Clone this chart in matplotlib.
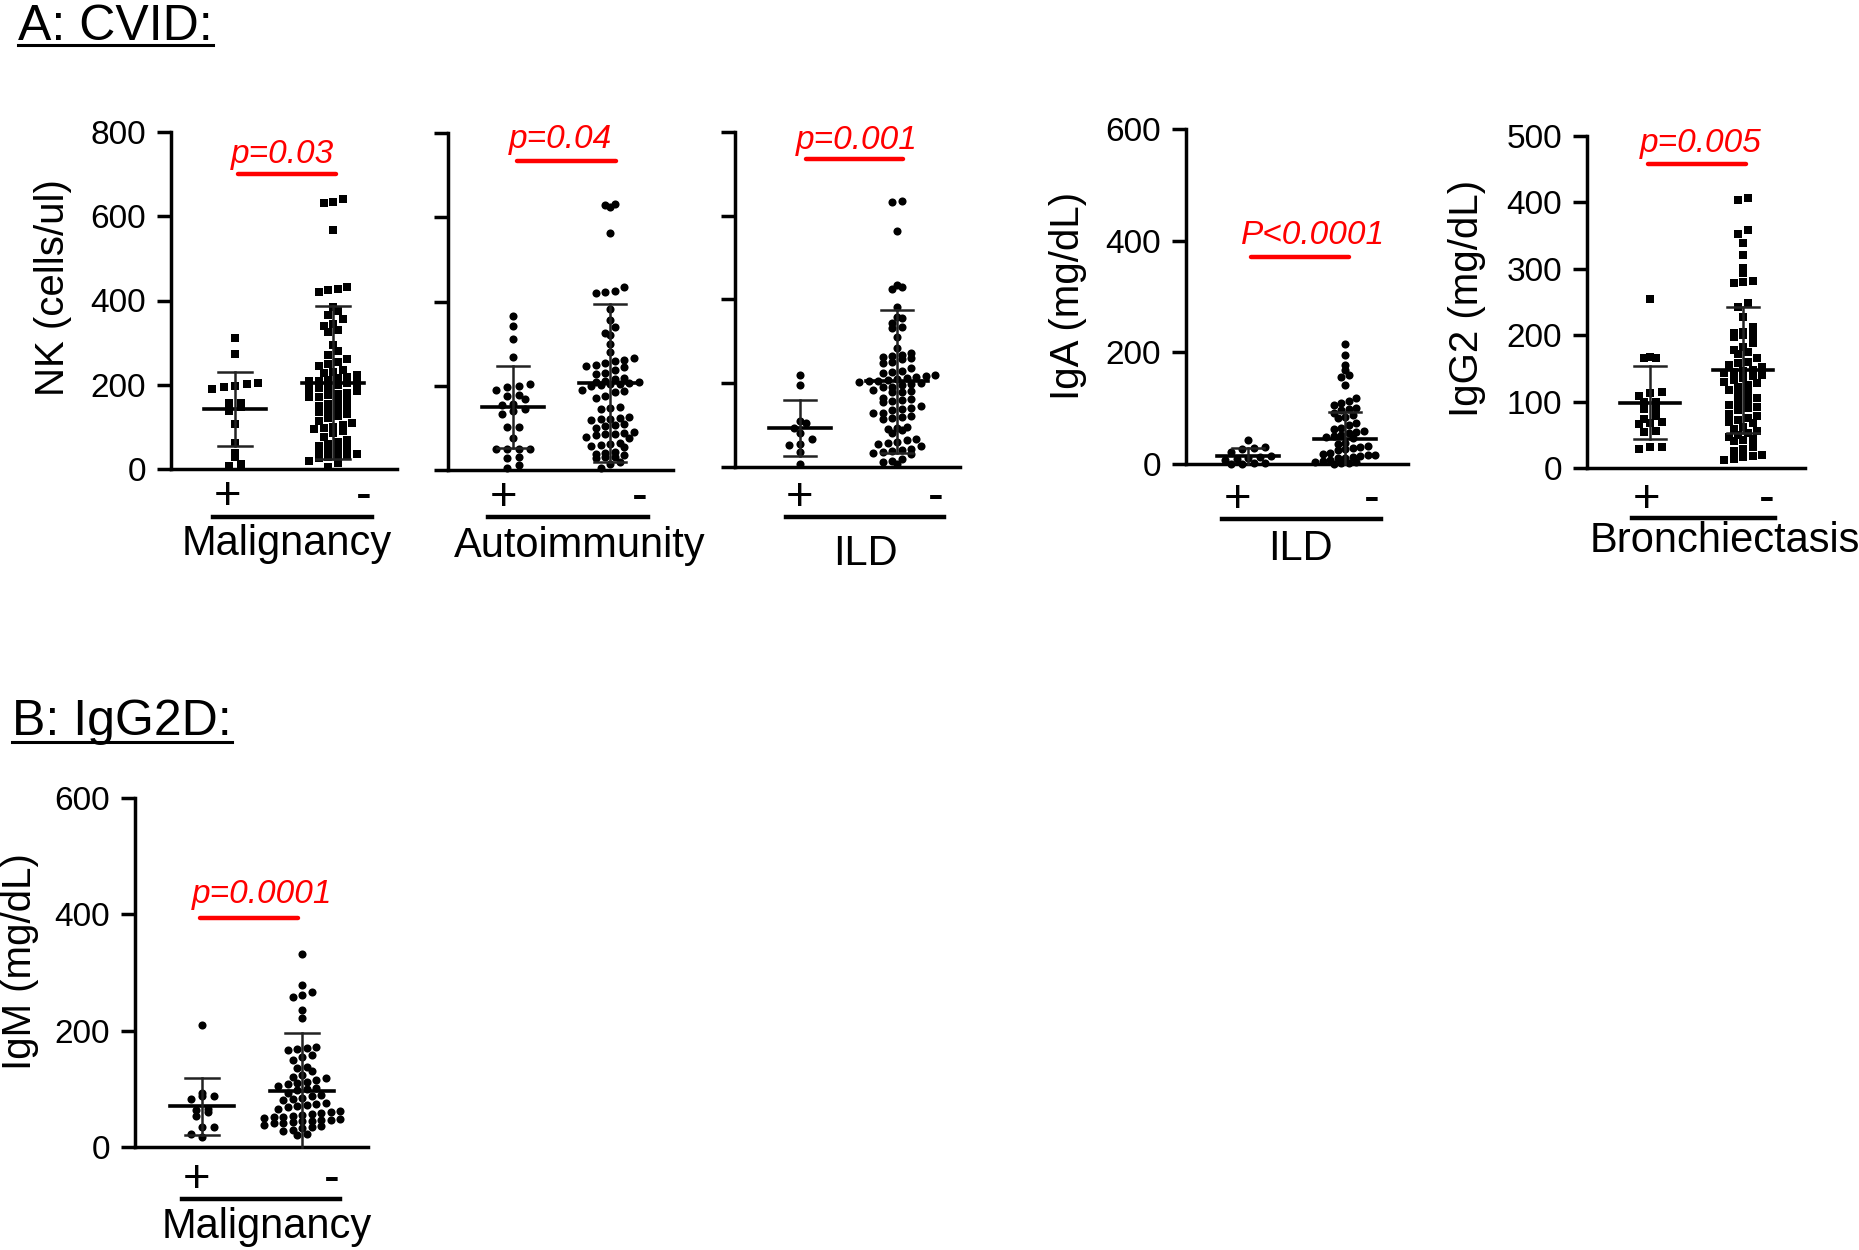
import numpy as np
import matplotlib
matplotlib.use('Agg')
import matplotlib.pyplot as plt
from matplotlib.lines import Line2D

plt.rcParams['font.family'] = ['Liberation Sans', 'DejaVu Sans']

# ---- values ----
nk_malig_pos = [312, 273, 205, 202, 197, 194, 189, 157, 157, 148, 138, 107, 61, 37, 28, 13, 7]
nk_malig_neg = [640, 635, 632, 567, 432, 428, 425, 420, 385, 375, 365, 355, 345, 340, 330, 325,
                295, 280, 270, 260, 255, 250, 245, 235, 230, 228, 222, 218, 215, 212, 210, 208,
                205, 203, 200, 195, 192, 190, 185, 180, 178, 175, 172, 170, 165, 160, 155, 150,
                148, 145, 140, 135, 130, 125, 120, 115, 110, 105, 100, 98, 95, 90, 85, 75, 70,
                65, 60, 55, 50, 45, 40, 38, 35, 32, 30, 28, 25, 20, 15, 5]
nk_malig_mean = [143, 205]
nk_malig_sd = [88, 182]

nk_auto_pos = [366, 341, 311, 269, 204, 200, 198, 190, 178, 176, 168, 157, 154, 144, 139, 133,
               103, 103, 75, 49, 49, 49, 49, 30, 28, 12, 4]
nk_auto_neg = [632, 628, 625, 563, 434, 425, 422, 420, 382, 356, 340, 325, 320, 300, 280, 265,
               262, 258, 255, 250, 248, 245, 237, 230, 228, 218, 215, 212, 210, 208, 206, 205,
               204, 202, 200, 190, 188, 185, 175, 172, 150, 148, 145, 126, 124, 122, 120, 118,
               110, 108, 105, 100, 90, 88, 86, 85, 82, 78, 75, 65, 62, 60, 58, 55, 42, 40, 38,
               35, 32, 30, 28, 18, 15, 5]
nk_auto_mean = [150, 207]
nk_auto_sd = [98, 187]

nk_ild_pos = [219, 197, 111, 105, 94, 80, 68, 56, 52, 36, 8]
nk_ild_neg = [636, 632, 564, 435, 430, 425, 383, 359, 355, 343, 335, 332, 311, 284, 272, 268,
              265, 262, 260, 258, 251, 248, 236, 230, 228, 225, 220, 218, 215, 212, 210, 208,
              206, 205, 203, 200, 198, 195, 192, 190, 185, 182, 180, 178, 165, 162, 160, 158,
              155, 145, 140, 138, 135, 130, 128, 122, 120, 118, 115, 95, 93, 90, 88, 82, 68,
              65, 60, 58, 55, 50, 42, 40, 38, 35, 33, 30, 20, 15, 12, 8]
nk_ild_mean = [93, 205]
nk_ild_sd = [66, 171]

iga_ild_pos = [43, 31, 28, 26, 22, 14, 12, 10, 9, 8, 2, 1, 0, 0]
iga_ild_neg = [215, 195, 177, 168, 160, 155, 141, 118, 112, 110, 105, 100, 98, 96, 91, 88, 85,
               82, 73, 70, 65, 62, 60, 58, 55, 52, 50, 48, 46, 37, 35, 32, 30, 28, 26, 25, 20,
               18, 17, 16, 14, 12, 11, 10, 8, 6, 4, 3, 2, 1, 0]
iga_ild_mean = [14, 45]
iga_ild_sd = [15, 48]

igg2_bronch_pos = [254, 167, 165, 165, 114, 113, 108, 99, 99, 89, 89, 79, 74, 69, 68, 67, 56,
                   54, 32, 31, 29]
igg2_bronch_neg = [406, 404, 358, 352, 339, 321, 301, 294, 282, 280, 278, 248, 243, 228, 212,
                   205, 203, 200, 200, 198, 188, 182, 178, 175, 172, 165, 160, 158, 155, 152,
                   148, 146, 145, 143, 140, 138, 135, 133, 130, 128, 125, 122, 118, 115, 110,
                   105, 102, 98, 95, 92, 90, 88, 82, 78, 75, 72, 70, 68, 62, 58, 55, 52, 50,
                   46, 44, 42, 40, 32, 28, 26, 20, 18, 16, 14, 12]
igg2_bronch_mean = [98, 148]
igg2_bronch_sd = [55, 95]

igm_malig_pos = [210, 92, 87, 87, 83, 66, 64, 60, 53, 34, 34, 23, 17]
igm_malig_neg = [332, 278, 266, 262, 258, 235, 222, 172, 170, 168, 166, 158, 155, 150, 138, 135,
                 130, 124, 120, 118, 115, 112, 110, 108, 105, 102, 100, 98, 93, 90, 88, 85, 82,
                 80, 76, 74, 72, 70, 68, 65, 62, 60, 58, 56, 55, 54, 52, 51, 50, 48, 47, 46, 45,
                 44, 43, 42, 41, 38, 36, 34, 32, 30, 28, 22, 20]
igm_malig_mean = [70, 96]
igm_malig_sd = [49, 100]

W, H = 1859, 1250
fig = plt.figure(figsize=(W / 100, H / 100), dpi=100)

# layout in pixels: axes box (left, right, top, bottom), group centres g1/g2
panels = [
    dict(box=(171, 397, 132, 469), g=(235, 333), ymax=800, ticks=[0, 200, 400, 600, 800], labels=True,
         ylabel='NK (cells/ul)', ylab_xy=(53, 288), pos=nk_malig_pos, neg=nk_malig_neg,
         mean=nk_malig_mean, sd=nk_malig_sd, p='p=0.03', p_xy=(1.48, 726), p_line=(1.03, 2.03, 700),
         cat='Malignancy', sub=(0.92, 2.31, 40), uline=(0.78, 2.40, 48), cat_xy=(1.53, 86), marker='s'),
    dict(box=(448, 673, 133, 470), g=(513, 610), ymax=800, ticks=[0, 200, 400, 600, 800], labels=False,
         ylabel=None, ylab_xy=None, pos=nk_auto_pos, neg=nk_auto_neg,
         mean=nk_auto_mean, sd=nk_auto_sd, p='p=0.04', p_xy=(1.49, 764), p_line=(1.04, 2.06, 733),
         cat='Autoimmunity', sub=(0.90, 2.31, 40), uline=(0.74, 2.39, 47), cat_xy=(1.69, 87), marker='o'),
    dict(box=(735, 960, 132, 467), g=(800, 897), ymax=800, ticks=[0, 200, 400, 600, 800], labels=False,
         ylabel=None, ylab_xy=None, pos=nk_ild_pos, neg=nk_ild_neg,
         mean=nk_ild_mean, sd=nk_ild_sd, p='p=0.001', p_xy=(1.59, 759), p_line=(1.06, 2.06, 735),
         cat='ILD', sub=(1.00, 2.40, 43), uline=(0.86, 2.48, 50), cat_xy=(1.67, 98), marker='o'),
    dict(box=(1186, 1408, 129, 464), g=(1248, 1345), ymax=600, ticks=[0, 200, 400, 600], labels=True,
         ylabel='IgA (mg/dL)', ylab_xy=(1068, 296), pos=iga_ild_pos, neg=iga_ild_neg,
         mean=iga_ild_mean, sd=iga_ild_sd, p='P<0.0001', p_xy=(1.67, 394), p_line=(1.03, 2.04, 371),
         cat='ILD', sub=(0.89, 2.28, 48), uline=(0.73, 2.37, 55), cat_xy=(1.54, 96), marker='o'),
    dict(box=(1587, 1805, 136, 468), g=(1650, 1743), ymax=500, ticks=[0, 100, 200, 300, 400, 500], labels=True,
         ylabel='IgG2 (mg/dL)', ylab_xy=(1467, 298), pos=igg2_bronch_pos, neg=igg2_bronch_neg,
         mean=igg2_bronch_mean, sd=igg2_bronch_sd, p='p=0.005', p_xy=(1.55, 476), p_line=(0.98, 2.03, 458),
         cat='Bronchiectasis', sub=(0.96, 2.26, 44), uline=(0.81, 2.34, 50), cat_xy=(1.80, 84), marker='s'),
    dict(box=(135, 368, 798, 1147), g=(202, 302), ymax=600, ticks=[0, 200, 400, 600], labels=True,
         ylabel='IgM (mg/dL)', ylab_xy=(20, 962), pos=igm_malig_pos, neg=igm_malig_neg,
         mean=igm_malig_mean, sd=igm_malig_sd, p='p=0.0001', p_xy=(1.60, 419), p_line=(0.98, 1.96, 394),
         cat='Malignancy', sub=(0.95, 2.30, 45), uline=(0.80, 2.38, 52), cat_xy=(1.65, 91), marker='o'),
]


def bin_offsets(ypx, h, s):
    # spread points that fall in the same height bin sideways (Prism-style scatter)
    bins = np.round(ypx / h).astype(int)
    xs = np.zeros(len(ypx))
    for b in np.unique(bins):
        idx = np.where(bins == b)[0]
        idx = idx[np.argsort(ypx[idx])]
        n = len(idx)
        xs[idx] = (np.arange(n) - (n - 1) / 2) * s
    return xs


for p in panels:
    left, right, top, bottom = p['box']
    g1, g2 = p['g']
    wpx, hpx = right - left, bottom - top
    unit = g2 - g1
    ax = fig.add_axes([left / W, 1 - bottom / H, wpx / W, hpx / H])
    ax.set_xlim(1 - (g1 - left) / unit, 2 + (right - g2) / unit)
    ax.set_ylim(0, p['ymax'])
    ax.set_facecolor('none')
    for sp in ['top', 'right']:
        ax.spines[sp].set_visible(False)
    for sp in ['left', 'bottom']:
        ax.spines[sp].set_linewidth(2.5)
    ax.set_xticks([])
    ax.set_yticks(p['ticks'])
    ax.tick_params(axis='y', direction='out', length=10, width=2.5, labelsize=24, pad=8)
    if not p['labels']:
        ax.set_yticklabels([])

    # dots
    for gx, vals, s in [(1, p['pos'], 11.5), (2, p['neg'], 9.5)]:
        vals = np.asarray(vals, dtype=float)
        ypx = ax.transData.transform(np.column_stack([np.zeros(len(vals)), vals]))[:, 1]
        if p['ylabel'] == 'IgA (mg/dL)' and gx == 2:
            s = 7.5
        dx = bin_offsets(ypx, 8, s) / unit
        ax.scatter(gx + dx, vals, s=34, marker=p['marker'], color='black', linewidths=0,
                   clip_on=False, zorder=3)

    # mean and SD
    for gx, m, sd in zip([1, 2], p['mean'], p['sd']):
        ax.plot([gx - 0.32, gx + 0.32], [m, m], color='black', lw=2.6, zorder=4, clip_on=False)
        lo, hi = max(m - sd, 0), m + sd
        ax.plot([gx, gx], [lo, hi], color='#222222', lw=1.8, zorder=4, clip_on=False)
        ax.plot([gx - 0.17, gx + 0.17], [hi, hi], color='#222222', lw=1.8, zorder=4, clip_on=False)
        if m - sd > 0:
            ax.plot([gx - 0.17, gx + 0.17], [lo, lo], color='#222222', lw=1.8, zorder=4, clip_on=False)

    # p value
    ax.text(p['p_xy'][0], p['p_xy'][1], p['p'], color='#ff0000', fontsize=24, style='italic',
            ha='center', va='baseline', clip_on=False)
    x1, x2, ly = p['p_line']
    ax.plot([x1, x2], [ly, ly], color='#ff0000', lw=3.2, solid_capstyle='round', clip_on=False)

    # group labels below axis
    tr = ax.get_xaxis_transform()
    px, mx, sy = p['sub']
    ax.text(px, -sy / hpx, '+', transform=tr, fontsize=34, ha='center', va='baseline')
    ax.text(mx, -sy / hpx, '-', transform=tr, fontsize=34, ha='center', va='baseline')
    u1, u2, uy = p['uline']
    ax.plot([u1, u2], [-uy / hpx, -uy / hpx], transform=tr, color='black', lw=3.2, clip_on=False)
    cx, cy = p['cat_xy']
    ax.text(cx, -cy / hpx, p['cat'], transform=tr, fontsize=30, ha='center', va='baseline')

    if p['ylabel']:
        lx, lyy = p['ylab_xy']
        fig.text(lx / W, 1 - lyy / H, p['ylabel'], fontsize=29, rotation=90,
                 ha='center', va='center')

# section headers with underline
renderer = fig.canvas.get_renderer()
for txt, x, base, uy in [('A: CVID:', 18, 40, 45), ('B: IgG2D:', 12, 735, 742)]:
    t = fig.text(x / W, 1 - base / H, txt, fontsize=36, ha='left', va='baseline')
    bb = t.get_window_extent(renderer=renderer)
    fig.add_artist(Line2D([bb.x0 / W, bb.x1 / W], [1 - uy / H, 1 - uy / H],
                          transform=fig.transFigure, color='black', lw=2.2))

fig.savefig('out.png', dpi=100)
